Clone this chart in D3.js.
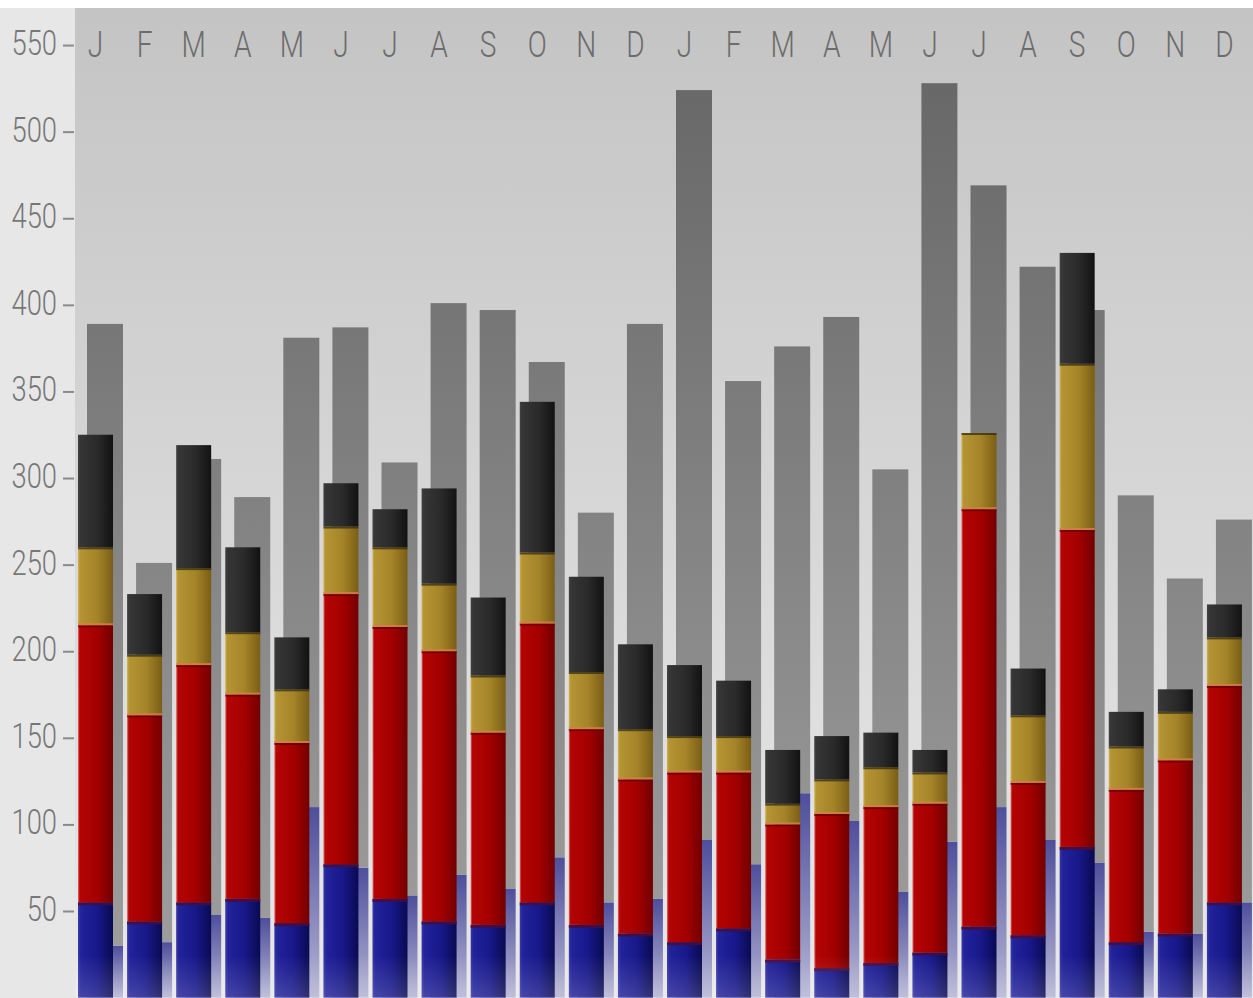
<!DOCTYPE html>
<html><head><meta charset="utf-8">
<script src="https://cdn.jsdelivr.net/npm/d3@7"></script>
<style>html,body{margin:0;padding:0;background:#fff;overflow:hidden}</style>
</head><body>
<svg id="chart" width="1253" height="998"></svg>
<script>
// ---- data ----
const months = ["J","F","M","A","M","J","J","A","S","O","N","D","J","F","M","A","M","J","J","A","S","O","N","D"];
const frontBlue  = [55,44,55,57,43,77,57,44,42,55,42,37,32,40,22,17,20,26,41,36,87,32,37,55];
const frontRed   = [160,119,137,118,104,156,157,156,111,161,113,89,98,90,78,89,90,86,241,88,183,88,100,125];
const frontGold  = [45,35,56,36,31,39,46,39,33,41,33,29,21,21,12,20,23,18,44,39,96,25,28,28];
const frontBlack = [65,35,71,49,30,25,22,55,45,87,55,49,41,32,31,25,20,13,0,27,64,20,13,19];
const backBlue   = [30,32,48,46,110,75,59,71,63,81,55,57,91,77,118,102,61,90,110,91,78,38,37,55];
const backGray   = [359,219,263,243,271,312,250,330,334,286,225,332,433,279,258,291,244,438,359,331,319,252,205,221];
const yTicks = [50,100,150,200,250,300,350,400,450,500,550];

// ---- layout ----
const W = 1253, H = 998;
const plotL = 75, plotT = 8, plotR = 1253, plotB = 998;
const svg = d3.select("#chart");
const idx = d3.range(months.length);
const x = d3.scaleBand().domain(idx).range([plotL, plotR]).paddingInner(0).paddingOuter(0);
const y = d3.scaleLinear().domain([0, 571.4]).range([997.6, plotT]);

const defs = svg.append("defs");
function hGrad(id, stops){
  const g = defs.append("linearGradient").attr("id", id).attr("x1","0").attr("x2","1").attr("y1","0").attr("y2","0");
  stops.forEach(s => g.append("stop").attr("offset", s[0]).attr("stop-color", s[1]).attr("stop-opacity", s[2] == null ? 1 : s[2]));
}
function vGrad(id, stops, user){
  const g = defs.append("linearGradient").attr("id", id).attr("x1","0").attr("x2","0");
  if (user) g.attr("gradientUnits","userSpaceOnUse").attr("y1", user[0]).attr("y2", user[1]);
  else g.attr("y1","0").attr("y2","1");
  stops.forEach(s => g.append("stop").attr("offset", s[0]).attr("stop-color", s[1]).attr("stop-opacity", s[2] == null ? 1 : s[2]));
}
vGrad("bgGrad", [[0,"#c4c4c4"],[0.4,"#d3d3d3"],[1,"#e8e8e8"]]);
hGrad("gBlue",  [[0,"#3a3aa8"],[0.08,"#22229a"],[0.55,"#18188a"],[1,"#0a0a52"]]);
hGrad("gRed",   [[0,"#e07070"],[0.05,"#b40404"],[0.55,"#a40000"],[1,"#720000"]]);
hGrad("gGold",  [[0,"#d0b050"],[0.06,"#b49432"],[0.55,"#a48428"],[1,"#7a5e16"]]);
hGrad("gBlack", [[0,"#444444"],[0.06,"#363636"],[0.55,"#2a2a2a"],[1,"#121212"]]);
vGrad("gBackGray", [[0,"#686868"],[1,"#a0a0a0"]], [80, 998]);
vGrad("gBackBlue", [[0,"#4e4e9c"],[1,"#b4b4d4"]]);
vGrad("floorFade", [[0,"#ffffff",0],[1,"#ffffff",0.16]]);

// ---- background ----
svg.append("rect").attr("x",0).attr("y",plotT).attr("width",plotL).attr("height",H-plotT).attr("fill","#e7e7e7");
svg.append("rect").attr("x",plotL).attr("y",plotT).attr("width",plotR-plotL).attr("height",plotB-plotT).attr("fill","url(#bgGrad)");

// ---- back bars (stacked: blue + gray) ----
const backRows = idx.map(i => ({i, blue: backBlue[i], gray: backGray[i]}));
const backStack = d3.stack().keys(["blue","gray"])(backRows);
const backFill = {blue:"url(#gBackBlue)", gray:"url(#gBackGray)"};
const backOff = 12, backW = 36;
svg.append("g").selectAll("g").data(backStack).join("g")
  .attr("fill", d => backFill[d.key])
  .selectAll("rect").data(d => d).join("rect")
  .attr("x", d => x(d.data.i) + backOff)
  .attr("width", backW)
  .attr("y", d => y(d[1]))
  .attr("height", d => Math.max(0, y(d[0]) - y(d[1])));

// ---- front bars (stacked: blue, red, gold, black) ----
const frontRows = idx.map(i => ({i, blue: frontBlue[i], red: frontRed[i], gold: frontGold[i], black: frontBlack[i]}));
const keys = ["blue","red","gold","black"];
const frontStack = d3.stack().keys(keys)(frontRows);
const frontFill = {blue:"url(#gBlue)", red:"url(#gRed)", gold:"url(#gGold)", black:"url(#gBlack)"};
const frontOff = 3, frontW = 35;
const fg = svg.append("g");
fg.selectAll("g").data(frontStack).join("g")
  .attr("fill", d => frontFill[d.key])
  .selectAll("rect").data(d => d.filter(s => s[1] > s[0])).join("rect")
  .attr("x", d => x(d.data.i) + frontOff)
  .attr("width", frontW)
  .attr("y", d => y(d[1]))
  .attr("height", d => y(d[0]) - y(d[1]));

// segment boundary details
const edges = [
  {key:"blue", color:"#4a0c3a", h:3, dy:0, op:0.85},
  {key:"red",  color:"#6a0000", h:2, dy:0, op:0.8},
  {key:"red",  color:"#d8804a", h:2, dy:-2, op:0.8},
  {key:"gold", color:"#2e2610", h:2, dy:0, op:0.7}
];
edges.forEach(e => {
  const layer = frontStack.find(s => s.key === e.key);
  fg.append("g").attr("fill", e.color).attr("opacity", e.op)
    .selectAll("rect").data(layer.filter(s => s[1] > s[0])).join("rect")
    .attr("x", d => x(d.data.i) + frontOff)
    .attr("width", frontW)
    .attr("y", d => y(d[1]) + e.dy)
    .attr("height", e.h);
});

// floor fade
svg.append("rect").attr("x",plotL).attr("y",955).attr("width",plotR-plotL).attr("height",43).attr("fill","url(#floorFade)");

// ---- y axis ----
const sx = 0.76;
const yAxis = svg.append("g").attr("transform",`translate(74,0)`)
  .call(d3.axisLeft(y).tickValues(yTicks).tickSize(11).tickPadding(0).tickFormat(d3.format("d")));
yAxis.select(".domain").remove();
yAxis.selectAll(".tick line").attr("stroke","#8a8a8a").attr("stroke-width",2);
yAxis.selectAll(".tick text")
  .attr("x", null).attr("dy", null)
  .attr("transform", `translate(-17,9.5) scale(${sx},1)`)
  .attr("text-anchor","end")
  .attr("fill","#777777")
  .attr("font-family","Roboto, 'Liberation Sans', sans-serif")
  .attr("font-weight",300)
  .attr("font-size",36);

// ---- month labels (top axis) ----
const xAxis = svg.append("g").attr("transform",`translate(0,57)`)
  .call(d3.axisTop(x).tickSize(0).tickPadding(0).tickFormat(i => months[i]));
xAxis.select(".domain").remove();
xAxis.selectAll(".tick").attr("transform", i => `translate(${x(i) + frontOff + frontW/2},0)`);
xAxis.selectAll(".tick text")
  .attr("y", null).attr("dy", null)
  .attr("transform", `scale(${sx},1)`)
  .attr("text-anchor","middle")
  .attr("fill","#6c6c6c")
  .attr("font-family","Roboto, 'Liberation Sans', sans-serif")
  .attr("font-weight",300)
  .attr("font-size",37);
</script>
</body></html>
